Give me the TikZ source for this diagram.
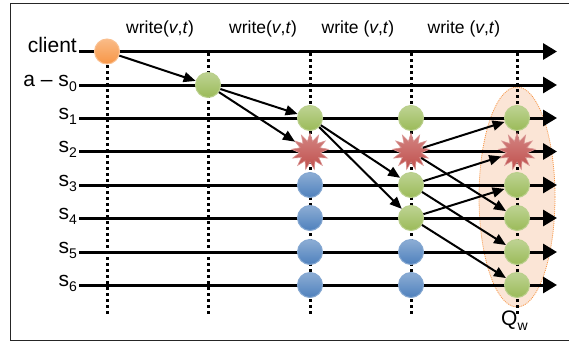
\documentclass[tikz,border=0pt]{standalone}
\usepackage{fontspec}
\setmainfont{Liberation Sans}
\usetikzlibrary{arrows.meta,shapes.geometric}
\definecolor{grn}{HTML}{9BBB59}
\definecolor{blu}{HTML}{4F81BD}
\definecolor{org}{HTML}{F79646}
\definecolor{rd}{HTML}{C0504D}
\definecolor{peach}{HTML}{FBE5D6}
\newcommand{\dn}[1]{\raisebox{-5pt}{\fontsize{14}{14}\selectfont #1}}
\tikzset{
  ball/.style={circle,minimum size=25pt,inner sep=0pt,line width=1pt},
  okball/.style={ball,draw=grn!70!white,top color=grn!65!white,bottom color=grn},
  oldball/.style={ball,draw=blu!70!white,top color=blu!65!white,bottom color=blu},
  clball/.style={ball,draw=org!60!white,top color=org!65!white,bottom color=org},
  crash/.style={star,star points=13,star point ratio=1.75,minimum size=37pt,inner sep=0pt,
    draw=rd!60!white,line width=0.6pt,top color=rd!70!white,bottom color=rd},
  timeline/.style={line width=3pt,-{Triangle[length=14pt,width=16pt]}},
  msg/.style={line width=2pt,-{Triangle[length=12pt,width=10pt]}},
  vdots/.style={line width=3pt,dash pattern=on 3pt off 3pt},
  rowlabel/.style={anchor=base east,inner sep=0pt,font=\fontsize{21}{21}\selectfont},
  oplabel/.style={anchor=base,inner sep=0pt,font=\fontsize{17.5}{18}\selectfont},
}
\begin{document}
\begin{tikzpicture}[x=1pt,y=-1pt]
  \useasboundingbox (0,0) rectangle (569,343);
  \draw[line width=1pt,black!85] (10,3.5) rectangle (600,340);

  % the write quorum
  \node[ellipse,minimum width=76pt,minimum height=220pt,fill=peach,draw=org,
    line width=0.8pt,dash pattern=on 1pt off 1pt] (qw) at (517,197) {};
  \node[anchor=base west,inner sep=0pt,font=\fontsize{21}{21}\selectfont] (qwlab) at (501,325) {Q\dn{w}};

  \foreach \x/\t in {160/{write(\textit{v},\textit{t})},263/{write(\textit{v},\textit{t})},
      358/{write (\textit{v},\textit{t})},464/{write (\textit{v},\textit{t})}}
    \node[oplabel] (op\x) at (\x,33) {\t};

  % columns
  \foreach \c/\x in {1/107,2/208,3/310,4/411,5/517} {
    \coordinate (v\c-t) at (\x,53);
    \coordinate (v\c-b) at (\x,314);
    \draw[vdots] (v\c-t) -- (v\c-b);
  }

  % time lines
  \foreach \r/\y/\lab in {cl/51.5/client,s0/85/{a -- s\dn{0}},s1/118/s\dn{1},s2/151.5/s\dn{2},
      s3/185/s\dn{3},s4/218/s\dn{4},s5/252/s\dn{5},s6/285/s\dn{6}} {
    \coordinate (\r-l) at (79,\y);
    \coordinate (\r-r) at (557,\y);
    \draw[timeline] (\r-l) -- (\r-r);
    \node[rowlabel] (\r-lab) at (77,\y+1) {\lab};
  }

  \node[clball] (c1-cl) at (v1-t |- cl-l) {};
  \node[okball] (c2-s0) at (v2-t |- s0-l) {};

  \node[okball] (c3-s1) at (v3-t |- s1-l) {};
  \node[crash] (c3-s2) at (v3-t |- s2-l) {};
  \foreach \r in {s3,s4,s5,s6}
    \node[oldball] (c3-\r) at (v3-t |- \r-l) {};

  \node[okball] (c4-s1) at (v4-t |- s1-l) {};
  \node[crash] (c4-s2) at (v4-t |- s2-l) {};
  \node[okball] (c4-s3) at (v4-t |- s3-l) {};
  \node[okball] (c4-s4) at (v4-t |- s4-l) {};
  \node[oldball] (c4-s5) at (v4-t |- s5-l) {};
  \node[oldball] (c4-s6) at (v4-t |- s6-l) {};

  \node[okball] (c5-s1) at (v5-t |- s1-l) {};
  \node[crash] (c5-s2) at (v5-t |- s2-l) {};
  \foreach \r in {s3,s4,s5,s6}
    \node[okball] (c5-\r) at (v5-t |- \r-l) {};

  % messages
  \draw[msg] (c1-cl) -- (c2-s0);
  \draw[msg] (c2-s0) -- (c3-s1);
  \draw[msg] (c2-s0) -- (c3-s2);
  \draw[msg] (c3-s1) -- (c4-s3);
  \draw[msg] (c3-s1) -- (c4-s4);
  \draw[msg] (c4-s2) -- (c5-s1);
  \draw[msg] (c4-s2) -- (c5-s4);
  \draw[msg] (c4-s3) -- (c5-s2);
  \draw[msg] (c4-s3) -- (c5-s5);
  \draw[msg] (c4-s4) -- (c5-s3);
  \draw[msg] (c4-s4) -- (c5-s6);
\end{tikzpicture}
\end{document}
